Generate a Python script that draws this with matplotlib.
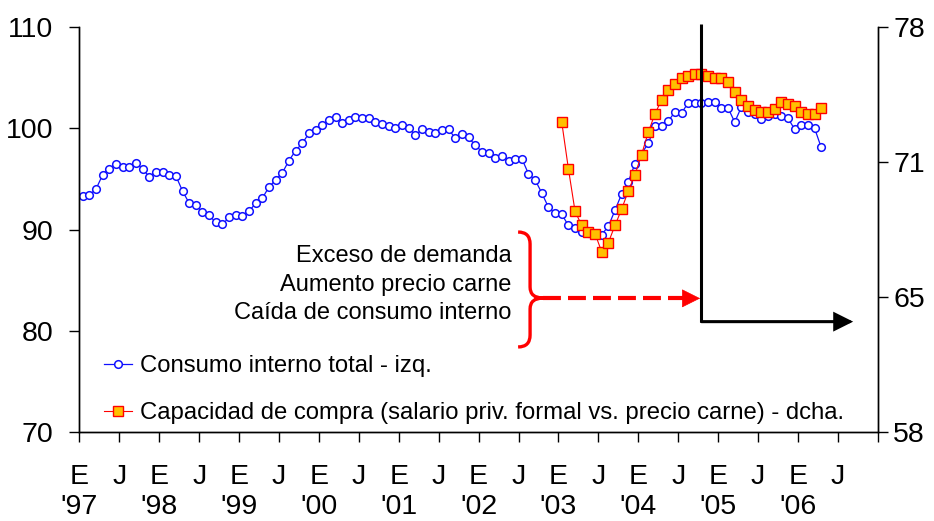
import matplotlib.pyplot as plt
import numpy as np
from matplotlib.path import Path
from matplotlib.patches import PathPatch

plt.rcParams['font.family'] = ['Liberation Sans', 'DejaVu Sans']

# consumo interno total (eje izq.), mensual desde ene-97
consumo = [93.3, 93.4, 94.0, 95.4, 96.0, 96.5, 96.2, 96.2, 96.6, 96.0, 95.2, 95.7,
           95.7, 95.4, 95.3, 93.8, 92.6, 92.4, 91.7, 91.4, 90.7, 90.5, 91.2, 91.4,
           91.3, 91.8, 92.6, 93.1, 94.2, 94.9, 95.6, 96.8, 97.8, 98.5, 99.5, 99.8,
           100.3, 100.8, 101.1, 100.5, 100.8, 101.1, 101.0, 101.0, 100.6, 100.4, 100.2, 100.0,
           100.3, 100.05, 99.3, 99.9, 99.6, 99.5, 99.8, 99.9, 99.0, 99.4, 99.1, 98.3,
           97.7, 97.6, 97.1, 97.3, 96.8, 97.0, 97.0, 95.5, 94.9, 93.6, 92.2, 91.6,
           91.5, 90.4, 90.1, 89.8, 89.7, 89.5, 89.5, 90.3, 91.9, 93.5, 94.7, 96.5,
           97.5, 98.5, 100.2, 100.2, 100.7, 101.6, 101.5, 102.5, 102.5, 102.5, 102.6, 102.6,
           102.0, 102.0, 100.6, 102.1, 101.6, 101.4, 100.9, 101.2, 101.4, 101.2, 101.0, 99.9,
           100.3, 100.3, 100.0, 98.1]

# capacidad de compra (eje dcha.), mensual desde ene-03
capacidad = [73.3, 71.0, 68.9, 68.2, 67.9, 67.8, 66.9, 67.35, 68.2, 69.0, 69.9, 70.7,
             71.7, 72.8, 73.7, 74.4, 74.9, 75.2, 75.5, 75.6, 75.7, 75.7, 75.6, 75.5,
             75.5, 75.3, 74.8, 74.4, 74.1, 73.9, 73.8, 73.8, 73.95, 74.3, 74.2, 74.1,
             73.8, 73.7, 73.7, 74.0]
inicio_capacidad = 72  # ene-03

xticklabels = ["E\n'97", "J", "E\n'98", "J", "E\n'99", "J", "E\n'00", "J",
               "E\n'01", "J", "E\n'02", "J", "E\n'03", "J", "E\n'04", "J",
               "E\n'05", "J", "E\n'06", "J", ""]
right_ticklabels = ["58", "65", "71", "78"]

labels = ["Consumo interno total - izq.",
          "Capacidad de compra (salario priv. formal vs. precio carne) - dcha."]
texto = "Exceso de demanda\nAumento precio carne\nCaída de consumo interno"

x1 = np.arange(len(consumo)) + 0.5
x2 = np.arange(len(capacidad)) + inicio_capacidad + 0.5

fig, ax = plt.subplots(figsize=(9.34, 5.21), dpi=100)
fig.subplots_adjust(left=0.085, right=0.9398, bottom=0.1708, top=0.9482)
ax2 = ax.twinx()

l1, = ax.plot(x1, consumo, color='#1010ff', lw=0.9, marker='o', ms=5.5,
              mfc='white', mec='#1010ff', mew=1.1)
l2, = ax2.plot(x2, capacidad, color='red', lw=0.8, marker='s', ms=6.8,
               mfc='#ffc000', mec='red', mew=1.0)

ax.set_xlim(0, 120)
ax.set_ylim(70, 110)
ax2.set_ylim(58, 78)
ax.set_xticks(np.arange(0, 121, 6))
ax.set_xticklabels(xticklabels)
ax.set_yticks(np.arange(70, 111, 10))
ax2.set_yticks(np.linspace(58, 78, 4))
ax2.set_yticklabels(right_ticklabels)

for a in (ax, ax2):
    a.spines['top'].set_visible(False)
    for s in a.spines.values():
        s.set_linewidth(1.0)
ax.tick_params(axis='x', direction='out', length=7, width=1, pad=16, labelsize=20.5)
ax.tick_params(axis='y', direction='out', length=7, width=1, pad=12, labelsize=20.5)
ax2.tick_params(axis='y', direction='out', length=7, width=1, pad=4, labelsize=20.5)

# anotaciones (coordenadas del eje izquierdo)
tr = ax.transData
ax2.plot([93.5, 93.5], [110.3, 80.9], color='black', lw=2.2, transform=tr,
         clip_on=False, solid_capstyle='butt', zorder=5)
ax2.annotate('', xy=(116.3, 80.9), xytext=(93.5, 80.9), xycoords=tr, textcoords=tr,
             arrowprops=dict(arrowstyle='-|>,head_length=10.8,head_width=5.4',
                             mutation_scale=1, color='black', lw=2.2,
                             shrinkA=0, shrinkB=0, joinstyle='miter'),
             zorder=5)

ax2.plot([69.7, 91.2], [83.2, 83.2], color='red', lw=3, dashes=(4.3, 1.7),
         transform=tr, zorder=5)
ax2.annotate('', xy=(93.3, 83.2), xytext=(90.5, 83.2), xycoords=tr, textcoords=tr,
             arrowprops=dict(arrowstyle='-|>,head_length=12.2,head_width=6.1',
                             mutation_scale=1, color='red', lw=0.5,
                             shrinkA=0, shrinkB=0),
             zorder=5)

brace = Path([(65.94, 89.75), (67.74, 89.75), (67.74, 88.57),
              (67.74, 84.32),
              (67.74, 83.23), (69.69, 83.23),
              (67.74, 83.23), (67.74, 82.15),
              (67.74, 79.58),
              (67.74, 78.40), (65.94, 78.40)],
             [Path.MOVETO, Path.CURVE3, Path.CURVE3, Path.LINETO,
              Path.CURVE3, Path.CURVE3, Path.CURVE3, Path.CURVE3,
              Path.LINETO, Path.CURVE3, Path.CURVE3])
ax2.add_patch(PathPatch(brace, transform=tr, fill=False, edgecolor='red', lw=2.4,
                        zorder=5))

ax2.text(65.0, 84.55, texto, transform=tr, ha='right', va='center',
         multialignment='right', fontsize=17, linespacing=1.38)

ax2.legend([l1, l2], labels, loc='upper left', bbox_to_anchor=(0.031, 0.19),
           frameon=False, fontsize=17.2, handlelength=1.15, handletextpad=0.35,
           labelspacing=1.05, borderpad=0, borderaxespad=0)

fig.savefig('out.png', dpi=100)
